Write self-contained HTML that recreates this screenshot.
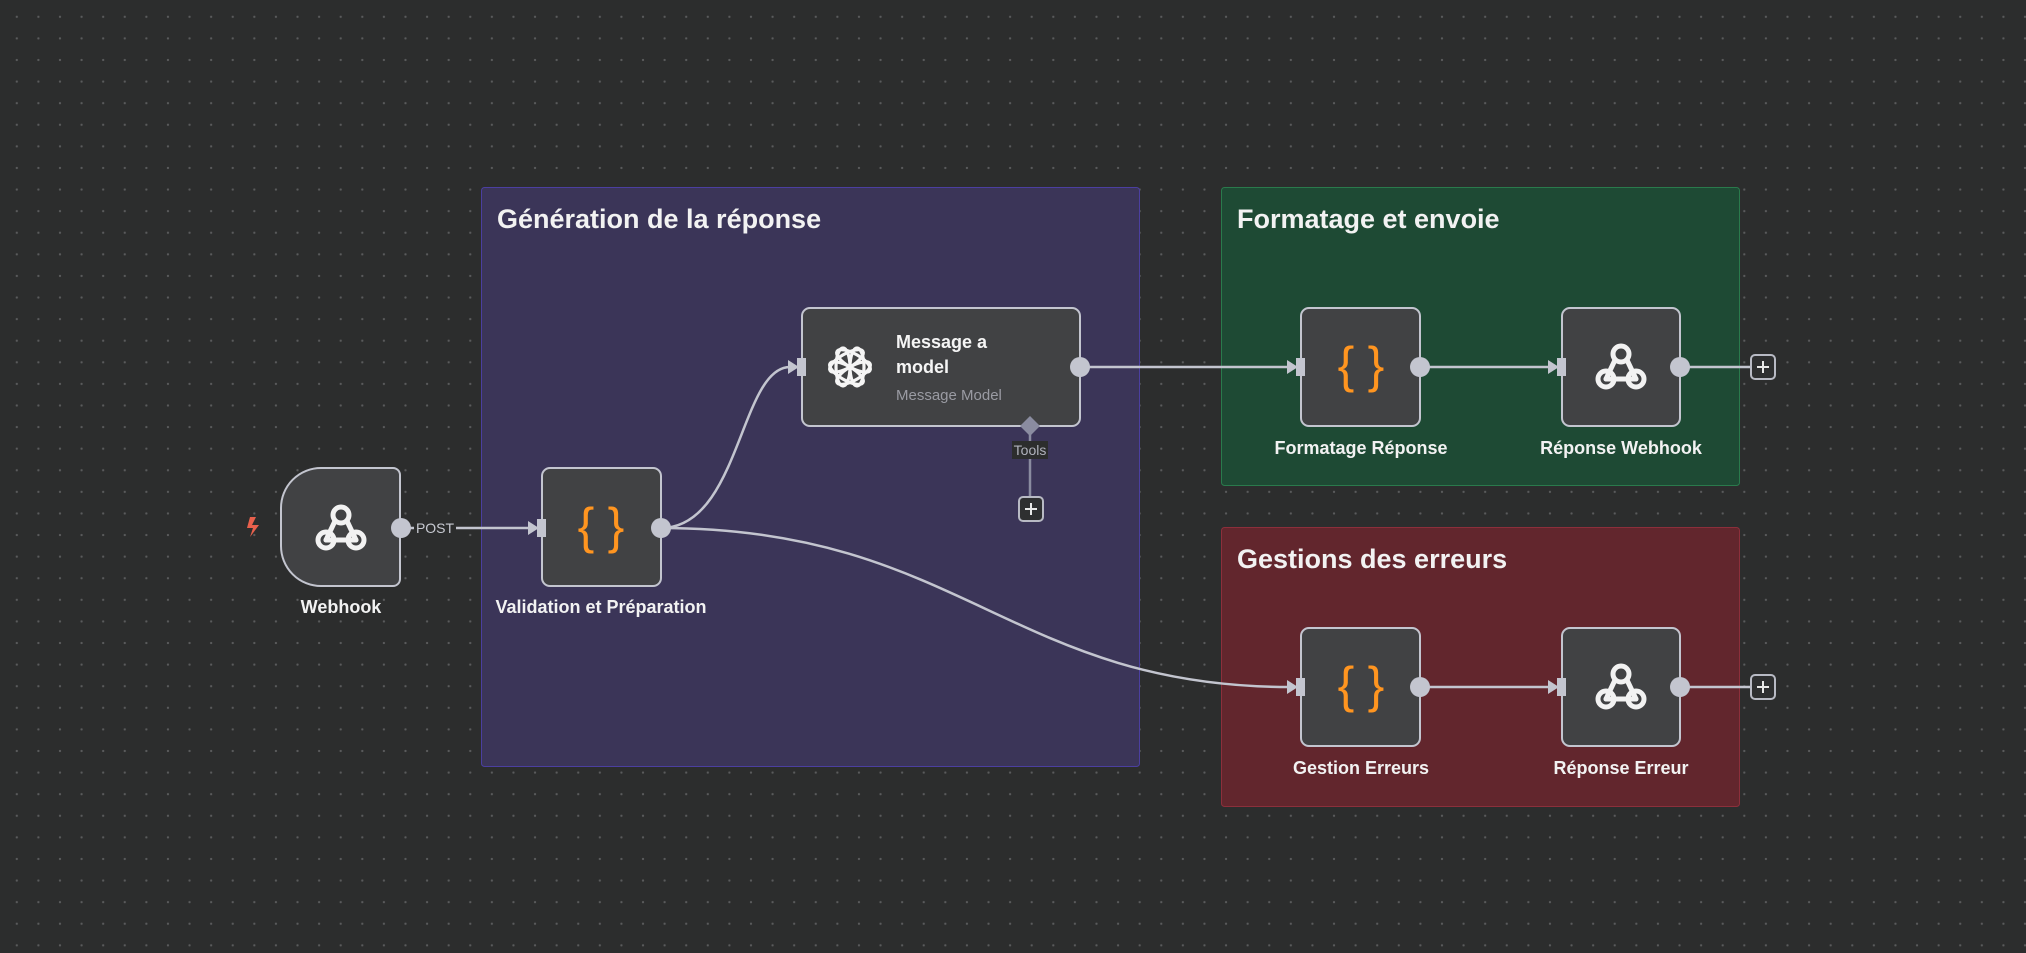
<!DOCTYPE html>
<html><head><meta charset="utf-8"><style>
html,body{margin:0;padding:0;}
body{width:2026px;height:953px;overflow:hidden;background-color:#2c2d2d;
background-image:radial-gradient(circle,#5a5b5c 1px,transparent 1.3px);background-size:21.6px 21.6px;background-position:6px 6px;
font-family:"Liberation Sans",sans-serif;}
svg{position:absolute;left:0;top:0}
text{font-family:"Liberation Sans",sans-serif}
</style></head><body>
<svg width="2026" height="953" viewBox="0 0 2026 953" xmlns="http://www.w3.org/2000/svg">
<defs>
<g id="wh" fill="none" stroke="#f2f2f2" stroke-width="5" stroke-linecap="round">
 <circle cx="0" cy="-13" r="8"/>
 <circle cx="-15" cy="12" r="8"/>
 <circle cx="15" cy="12" r="8"/>
 <path d="M-6 -7 L-15 12"/><path d="M-15 12 L15 12"/><path d="M6 -7 L15 12"/>
</g>
<g id="br">
 <text x="-15" y="15" text-anchor="middle" font-size="50" fill="#ff9520" font-family="Liberation Mono, monospace">{</text>
 <text x="15" y="15" text-anchor="middle" font-size="50" fill="#ff9520" font-family="Liberation Mono, monospace">}</text>
</g>
<g id="inh"><path d="M-12 -7 L-1 0 L-12 7 Z" fill="#c3c5cf"/><rect x="-3" y="-9" width="9" height="18" fill="#c3c5cf"/></g>
<g id="plus"><rect x="-12" y="-12" width="24" height="24" rx="4" fill="#2e2f30" stroke="#b8bac4" stroke-width="2"/><path d="M-6 0H6M0 -6V6" stroke="#e8e8e8" stroke-width="2"/></g>
</defs>

<rect x="481.5" y="187.5" width="658" height="579" rx="3" fill="#3b3558" stroke="#4b3fa0" stroke-width="1"/>
<text x="497" y="228" font-size="27" fill="#f2f2f2" font-weight="bold">Génération de la réponse</text>
<rect x="1221.5" y="187.5" width="518" height="298" rx="3" fill="#1e4a34" stroke="#2a7a4c" stroke-width="1"/>
<text x="1237" y="228" font-size="27" fill="#f2f2f2" font-weight="bold">Formatage et envoie</text>
<rect x="1221.5" y="527.5" width="518" height="279" rx="3" fill="#62262d" stroke="#8c2f3b" stroke-width="1"/>
<text x="1237" y="568" font-size="27" fill="#f2f2f2" font-weight="bold">Gestions des erreurs</text>

<g fill="none" stroke="#c3c5cf" stroke-width="2.5">
 <path d="M401 528 H528"/>
 <path d="M661 528 C740 528 740 367 790 367"/>
 <path d="M661 528 C960 528 1010 687 1290 687"/>
 <path d="M1080 367 H1290"/>
 <path d="M1420 367 H1550"/>
 <path d="M1680 367 H1750"/>
 <path d="M1420 687 H1550"/>
 <path d="M1680 687 H1750"/>
 <path d="M1030 426 V497" stroke="#8a8ca0"/>
</g>

<path d="M250 517 L256 517 L252 525 L259 525 L250 537 L253 528 L247 528 Z" fill="#e8604c"/>
<path d="M321 468 H393 a7 7 0 0 1 7 7 V579 a7 7 0 0 1 -7 7 H321 a40 40 0 0 1 -40 -40 V508 a40 40 0 0 1 40 -40 Z" fill="#414244" stroke="#c3c5cf" stroke-width="2"/>
<use href="#wh" x="341" y="528"/>
<circle cx="401" cy="528" r="10" fill="#c3c5cf"/>
<rect x="414" y="519" width="42" height="18" fill="#2c2d2d"/>
<text x="435" y="533" font-size="14" fill="#c8cad2" text-anchor="middle">POST</text>
<text x="341" y="613" font-size="18" fill="#f2f2f2" text-anchor="middle" font-weight="bold">Webhook</text>

<rect x="542" y="468" width="119" height="118" rx="8" fill="#414244" stroke="#c3c5cf" stroke-width="2"/>
<use href="#br" x="601" y="528"/>
<use href="#inh" x="540" y="528"/>
<circle cx="661" cy="528" r="10" fill="#c3c5cf"/>
<text x="601" y="613" font-size="18" fill="#f2f2f2" text-anchor="middle" font-weight="bold">Validation et Préparation</text>

<rect x="802" y="308" width="278" height="118" rx="8" fill="#414244" stroke="#c3c5cf" stroke-width="2"/>
<use href="#inh" x="800" y="367"/>
<circle cx="1080" cy="367" r="10" fill="#c3c5cf"/>
<g transform="translate(850 367)" fill="none" stroke="#f5f5f5" stroke-width="3.2">
 <ellipse rx="7" ry="19" transform="rotate(0) translate(7 0)"/>
 <ellipse rx="7" ry="19" transform="rotate(60) translate(7 0)"/>
 <ellipse rx="7" ry="19" transform="rotate(120) translate(7 0)"/>
 <ellipse rx="7" ry="19" transform="rotate(180) translate(7 0)"/>
 <ellipse rx="7" ry="19" transform="rotate(240) translate(7 0)"/>
 <ellipse rx="7" ry="19" transform="rotate(300) translate(7 0)"/>
</g>
<text x="896" y="348" font-size="18" fill="#f5f5f5" font-weight="bold">Message a</text>
<text x="896" y="373" font-size="18" fill="#f5f5f5" font-weight="bold">model</text>
<text x="896" y="400" font-size="15" fill="#9a9ba3">Message Model</text>
<path d="M1030 416 L1040 426 L1030 436 L1020 426 Z" fill="#8a8ca0"/>
<rect x="1012" y="441" width="36" height="18" fill="#2c2d2d"/>
<text x="1030" y="455" font-size="14" fill="#b0b2bc" text-anchor="middle">Tools</text>
<use href="#plus" x="1031" y="509"/>

<rect x="1301" y="308" width="119" height="118" rx="8" fill="#414244" stroke="#c3c5cf" stroke-width="2"/>
<use href="#br" x="1361" y="367"/>
<use href="#inh" x="1299" y="367"/>
<circle cx="1420" cy="367" r="10" fill="#c3c5cf"/>
<text x="1361" y="454" font-size="18" fill="#f2f2f2" text-anchor="middle" font-weight="bold">Formatage Réponse</text>

<rect x="1562" y="308" width="118" height="118" rx="8" fill="#414244" stroke="#c3c5cf" stroke-width="2"/>
<use href="#wh" x="1621" y="367"/>
<use href="#inh" x="1560" y="367"/>
<circle cx="1680" cy="367" r="10" fill="#c3c5cf"/>
<text x="1621" y="454" font-size="18" fill="#f2f2f2" text-anchor="middle" font-weight="bold">Réponse Webhook</text>
<use href="#plus" x="1763" y="367"/>

<rect x="1301" y="628" width="119" height="118" rx="8" fill="#414244" stroke="#c3c5cf" stroke-width="2"/>
<use href="#br" x="1361" y="687"/>
<use href="#inh" x="1299" y="687"/>
<circle cx="1420" cy="687" r="10" fill="#c3c5cf"/>
<text x="1361" y="774" font-size="18" fill="#f2f2f2" text-anchor="middle" font-weight="bold">Gestion Erreurs</text>

<rect x="1562" y="628" width="118" height="118" rx="8" fill="#414244" stroke="#c3c5cf" stroke-width="2"/>
<use href="#wh" x="1621" y="687"/>
<use href="#inh" x="1560" y="687"/>
<circle cx="1680" cy="687" r="10" fill="#c3c5cf"/>
<text x="1621" y="774" font-size="18" fill="#f2f2f2" text-anchor="middle" font-weight="bold">Réponse Erreur</text>
<use href="#plus" x="1763" y="687"/>
</svg>
</body></html>
